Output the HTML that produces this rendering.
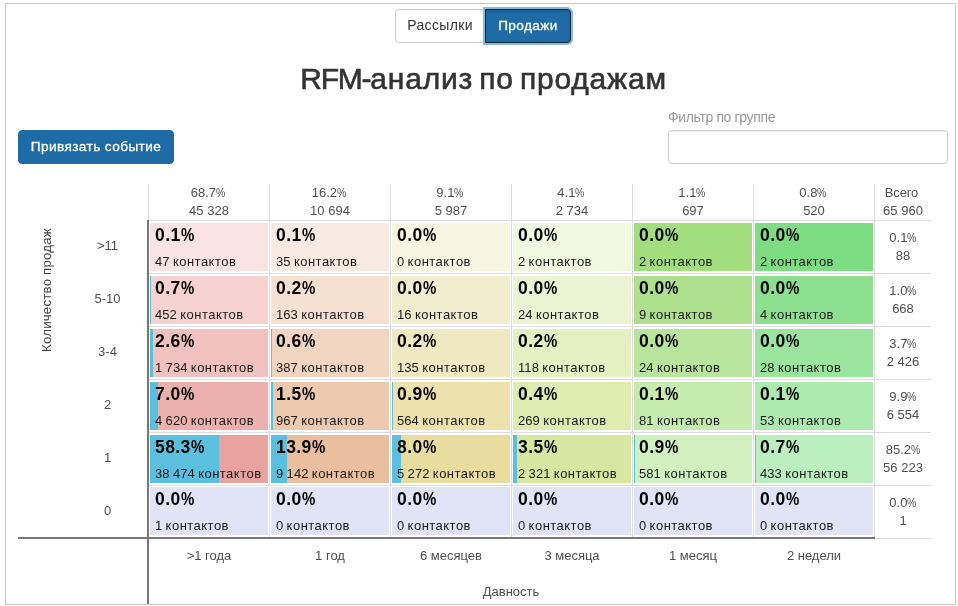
<!DOCTYPE html>
<html lang="ru"><head><meta charset="utf-8"><title>RFM-анализ по продажам</title>
<style>
*{box-sizing:border-box}
html,body{margin:0;padding:0;background:#fff}
body{width:958px;height:606px;position:relative;overflow:hidden;font-family:"Liberation Sans",Arial,sans-serif;font-size:13px;color:#555}
.frame{position:absolute;left:5px;top:3px;width:951px;height:602px;border:1px solid #c9c9c9}
.abs{position:absolute;white-space:nowrap}
.btn{position:absolute;height:34px;line-height:30px;font-size:14px;text-align:center;border:1px solid #ccc;border-radius:4px;white-space:nowrap}
.btn-default{background:#fff;color:#333;border-radius:4px 0 0 4px}
.btn-primary{background:#1f6ba6;color:#fff;border-color:#1f6ba6;-webkit-text-stroke:.3px #fff;letter-spacing:.42px;font-size:13.6px;line-height:31px}
.btn-primary.active{border-radius:0 4px 4px 0;border-color:#122b40;box-shadow:inset 0 2px 3px rgba(0,0,0,.1),0 0 0 2px #8db7dc}
h1{position:absolute;margin:0;left:0;width:958px;text-align:center;font-size:30px;font-weight:normal;color:#333;-webkit-text-stroke:.6px #333;letter-spacing:.8px;word-spacing:-3px;white-space:nowrap}
label{position:absolute;font-size:14px;color:#999;white-space:nowrap;letter-spacing:-.36px}
.input{position:absolute;left:668px;top:130px;width:280px;height:34px;border:1px solid #ccc;border-radius:4px;background:#fff;box-shadow:inset 0 1px 1px rgba(0,0,0,.075)}
.vl{position:absolute;width:1px;background:#ddd}
.hl{position:absolute;height:1px;background:#ddd}
.ax{position:absolute;background:#777}
.cell{position:absolute;width:118px;height:48px;overflow:hidden}
.bar{position:absolute;left:0;top:0;height:100%;background:#5bc0de}
.pct{position:absolute;left:5px;top:0;font-size:17.5px;letter-spacing:.4px;font-weight:bold;color:#000;line-height:24px;white-space:nowrap}
.cnt{position:absolute;left:5px;top:30px;font-size:13px;letter-spacing:.08px;word-spacing:-.4px;color:#1a1a1a;line-height:18px;white-space:nowrap}
.pc{display:inline-block;transform:scaleX(.8);transform-origin:0 50%;margin-right:-2.3px;letter-spacing:0}
.pct .pc{transform:scaleX(.855)}
.cnt span{letter-spacing:.48px}
.hd{position:absolute;width:120px;text-align:center;font-size:13px;line-height:18px;color:#4f4f4f;white-space:nowrap}
.rot{position:absolute;transform-origin:0 0;transform:rotate(-90deg);white-space:nowrap;font-size:13.3px;letter-spacing:.18px;color:#444}
</style></head><body>
<div class="frame"></div>
<div class="btn btn-default" style="left:395px;top:9px;width:90px;letter-spacing:.35px">Рассылки</div>
<div class="btn btn-primary active" style="left:485px;top:9px;width:86px">Продажи</div>
<h1 style="top:62px;left:4.5px;line-height:34px"><span style="letter-spacing:-1.2px">RFM-</span>анализ по продажам</h1>
<div class="btn btn-primary" style="left:18px;top:130px;width:156px">Привязать событие</div>
<label style="left:668px;top:108px;line-height:18px">Фильтр по группе</label>
<div class="input"></div>

<div class="vl" style="left:148px;top:184px;height:354px"></div>
<div class="vl" style="left:269px;top:184px;height:354px"></div>
<div class="vl" style="left:390px;top:184px;height:354px"></div>
<div class="vl" style="left:511px;top:184px;height:354px"></div>
<div class="vl" style="left:632px;top:184px;height:354px"></div>
<div class="vl" style="left:753px;top:184px;height:354px"></div>
<div class="vl" style="left:874px;top:184px;height:354px"></div>
<div class="hl" style="left:148px;top:220px;width:783px"></div>
<div class="hl" style="left:148px;top:273px;width:783px"></div>
<div class="hl" style="left:148px;top:326px;width:783px"></div>
<div class="hl" style="left:148px;top:379px;width:783px"></div>
<div class="hl" style="left:148px;top:432px;width:783px"></div>
<div class="hl" style="left:148px;top:485px;width:783px"></div>
<div class="hl" style="left:148px;top:538px;width:783px"></div>
<div class="ax" style="left:147px;top:220px;width:2px;height:384px"></div>
<div class="ax" style="left:18px;top:537px;width:857px;height:2px"></div>
<div class="hd" style="left:149px;top:184px"><span style="position:relative;left:-1px">68.7<span class="pc">%</span></span><br>45 328</div>
<div class="hd" style="left:270px;top:184px"><span style="position:relative;left:-1px">16.2<span class="pc">%</span></span><br>10 694</div>
<div class="hd" style="left:391px;top:184px"><span style="position:relative;left:-1px">9.1<span class="pc">%</span></span><br>5 987</div>
<div class="hd" style="left:512px;top:184px"><span style="position:relative;left:-1px">4.1<span class="pc">%</span></span><br>2 734</div>
<div class="hd" style="left:633px;top:184px"><span style="position:relative;left:-1px">1.1<span class="pc">%</span></span><br>697</div>
<div class="hd" style="left:754px;top:184px"><span style="position:relative;left:-1px">0.8<span class="pc">%</span></span><br>520</div>
<div class="hd" style="left:875px;top:184px;width:56px"><span style="position:relative;left:-1.5px;letter-spacing:-.15px">Всего</span><br>65 960</div>
<div class="hd" style="left:67px;top:237px;width:81px">&gt;11</div>
<div class="hd" style="left:875px;top:229px;width:56px">0.1<span class="pc">%</span><br>88</div>
<div class="hd" style="left:67px;top:290px;width:81px">5-10</div>
<div class="hd" style="left:875px;top:282px;width:56px">1.0<span class="pc">%</span><br>668</div>
<div class="hd" style="left:67px;top:343px;width:81px">3-4</div>
<div class="hd" style="left:875px;top:335px;width:56px">3.7<span class="pc">%</span><br>2 426</div>
<div class="hd" style="left:67px;top:396px;width:81px">2</div>
<div class="hd" style="left:875px;top:388px;width:56px">9.9<span class="pc">%</span><br>6 554</div>
<div class="hd" style="left:67px;top:449px;width:81px">1</div>
<div class="hd" style="left:875px;top:441px;width:56px">85.2<span class="pc">%</span><br>56 223</div>
<div class="hd" style="left:67px;top:502px;width:81px">0</div>
<div class="hd" style="left:875px;top:494px;width:56px">0.0<span class="pc">%</span><br>1</div>
<div class="cell" style="left:150px;top:223px;background:#f9e4e3"><div class="pct">0.1<span class="pc">%</span></div><div class="cnt">47 <span>контактов</span></div></div>
<div class="cell" style="left:271px;top:223px;background:#f9ebe2"><div class="pct">0.1<span class="pc">%</span></div><div class="cnt">35 <span>контактов</span></div></div>
<div class="cell" style="left:392px;top:223px;background:#f8f5e3"><div class="pct">0.0<span class="pc">%</span></div><div class="cnt">0 <span>контактов</span></div></div>
<div class="cell" style="left:513px;top:223px;background:#f2f7e2"><div class="pct">0.0<span class="pc">%</span></div><div class="cnt">2 <span>контактов</span></div></div>
<div class="cell" style="left:634px;top:223px;background:#a3de7e"><div class="pct">0.0<span class="pc">%</span></div><div class="cnt">2 <span>контактов</span></div></div>
<div class="cell" style="left:755px;top:223px;background:#7edc82"><div class="pct">0.0<span class="pc">%</span></div><div class="cnt">2 <span>контактов</span></div></div>
<div class="cell" style="left:150px;top:276px;background:#f6d3d1"><div class="bar" style="width:1px"></div><div class="pct">0.7<span class="pc">%</span></div><div class="cnt">452 <span>контактов</span></div></div>
<div class="cell" style="left:271px;top:276px;background:#f5e0d2"><div class="pct">0.2<span class="pc">%</span></div><div class="cnt">163 <span>контактов</span></div></div>
<div class="cell" style="left:392px;top:276px;background:#f3edd0"><div class="pct">0.0<span class="pc">%</span></div><div class="cnt">16 <span>контактов</span></div></div>
<div class="cell" style="left:513px;top:276px;background:#ecf3d2"><div class="pct">0.0<span class="pc">%</span></div><div class="cnt">24 <span>контактов</span></div></div>
<div class="cell" style="left:634px;top:276px;background:#aee08d"><div class="pct">0.0<span class="pc">%</span></div><div class="cnt">9 <span>контактов</span></div></div>
<div class="cell" style="left:755px;top:276px;background:#8ce08f"><div class="pct">0.0<span class="pc">%</span></div><div class="cnt">4 <span>контактов</span></div></div>
<div class="cell" style="left:150px;top:329px;background:#f1c1bf"><div class="bar" style="width:3px"></div><div class="pct">2.6<span class="pc">%</span></div><div class="cnt">1 734 <span>контактов</span></div></div>
<div class="cell" style="left:271px;top:329px;background:#f1d5c0"><div class="bar" style="width:1px"></div><div class="pct">0.6<span class="pc">%</span></div><div class="cnt">387 <span>контактов</span></div></div>
<div class="cell" style="left:392px;top:329px;background:#f0e8c0"><div class="pct">0.2<span class="pc">%</span></div><div class="cnt">135 <span>контактов</span></div></div>
<div class="cell" style="left:513px;top:329px;background:#e6efc1"><div class="pct">0.2<span class="pc">%</span></div><div class="cnt">118 <span>контактов</span></div></div>
<div class="cell" style="left:634px;top:329px;background:#b8e59e"><div class="pct">0.0<span class="pc">%</span></div><div class="cnt">24 <span>контактов</span></div></div>
<div class="cell" style="left:755px;top:329px;background:#9be49e"><div class="pct">0.0<span class="pc">%</span></div><div class="cnt">28 <span>контактов</span></div></div>
<div class="cell" style="left:150px;top:382px;background:#ecb1ae"><div class="bar" style="width:8px"></div><div class="pct">7.0<span class="pc">%</span></div><div class="cnt">4 620 <span>контактов</span></div></div>
<div class="cell" style="left:271px;top:382px;background:#edc9af"><div class="bar" style="width:2px"></div><div class="pct">1.5<span class="pc">%</span></div><div class="cnt">967 <span>контактов</span></div></div>
<div class="cell" style="left:392px;top:382px;background:#ede2ae"><div class="bar" style="width:1px"></div><div class="pct">0.9<span class="pc">%</span></div><div class="cnt">564 <span>контактов</span></div></div>
<div class="cell" style="left:513px;top:382px;background:#dfebb0"><div class="pct">0.4<span class="pc">%</span></div><div class="cnt">269 <span>контактов</span></div></div>
<div class="cell" style="left:634px;top:382px;background:#c5ebae"><div class="pct">0.1<span class="pc">%</span></div><div class="cnt">81 <span>контактов</span></div></div>
<div class="cell" style="left:755px;top:382px;background:#aceaaf"><div class="pct">0.1<span class="pc">%</span></div><div class="cnt">53 <span>контактов</span></div></div>
<div class="cell" style="left:150px;top:435px;background:#e8a3a0"><div class="bar" style="width:69px"></div><div class="pct">58.3<span class="pc">%</span></div><div class="cnt">38 474 <span>контактов</span></div></div>
<div class="cell" style="left:271px;top:435px;background:#e9bf9f"><div class="bar" style="width:16px"></div><div class="pct">13.9<span class="pc">%</span></div><div class="cnt">9 142 <span>контактов</span></div></div>
<div class="cell" style="left:392px;top:435px;background:#e8dc9f"><div class="bar" style="width:9px"></div><div class="pct">8.0<span class="pc">%</span></div><div class="cnt">5 272 <span>контактов</span></div></div>
<div class="cell" style="left:513px;top:435px;background:#d9e6a0"><div class="bar" style="width:4px"></div><div class="pct">3.5<span class="pc">%</span></div><div class="cnt">2 321 <span>контактов</span></div></div>
<div class="cell" style="left:634px;top:435px;background:#d2f0bf"><div class="bar" style="width:1px"></div><div class="pct">0.9<span class="pc">%</span></div><div class="cnt">581 <span>контактов</span></div></div>
<div class="cell" style="left:755px;top:435px;background:#bcefbf"><div class="bar" style="width:1px"></div><div class="pct">0.7<span class="pc">%</span></div><div class="cnt">433 <span>контактов</span></div></div>
<div class="cell" style="left:150px;top:487px;background:#e1e4f6"><div class="pct">0.0<span class="pc">%</span></div><div class="cnt">1 <span>контактов</span></div></div>
<div class="cell" style="left:271px;top:487px;background:#e1e4f6"><div class="pct">0.0<span class="pc">%</span></div><div class="cnt">0 <span>контактов</span></div></div>
<div class="cell" style="left:392px;top:487px;background:#e1e4f6"><div class="pct">0.0<span class="pc">%</span></div><div class="cnt">0 <span>контактов</span></div></div>
<div class="cell" style="left:513px;top:487px;background:#e1e4f6"><div class="pct">0.0<span class="pc">%</span></div><div class="cnt">0 <span>контактов</span></div></div>
<div class="cell" style="left:634px;top:487px;background:#e1e4f6"><div class="pct">0.0<span class="pc">%</span></div><div class="cnt">0 <span>контактов</span></div></div>
<div class="cell" style="left:755px;top:487px;background:#e1e4f6"><div class="pct">0.0<span class="pc">%</span></div><div class="cnt">0 <span>контактов</span></div></div>
<div class="hd" style="left:149px;top:547px">&gt;1 года</div>
<div class="hd" style="left:270px;top:547px">1 год</div>
<div class="hd" style="left:391px;top:547px">6 месяцев</div>
<div class="hd" style="left:512px;top:547px">3 месяца</div>
<div class="hd" style="left:633px;top:547px">1 месяц</div>
<div class="hd" style="left:754px;top:547px">2 недели</div>
<div class="hd" style="left:451px;top:583px">Давность</div>
<div class="rot" style="left:38px;top:352px;line-height:18px">Количество продаж</div>
</body></html>
